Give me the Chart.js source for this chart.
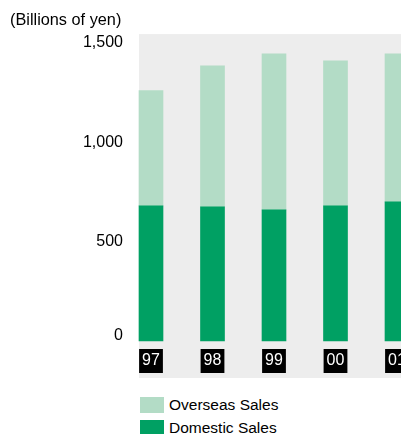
<!DOCTYPE html>
<html>
<head>
<meta charset="utf-8">
<script src="https://cdn.jsdelivr.net/npm/chart.js@4"></script>
<style>
  body { margin: 0; background: #fff; font-family: "Liberation Sans", Arial, sans-serif; }
  #wrap { position: relative; width: 401px; height: 434px; overflow: hidden; }
  #salesChart { position: absolute; left: 0; top: 0; }
  .legend { position: absolute; left: 140px; top: 393px; font-size: 15.5px; color: #000; }
  .legend div { display: flex; align-items: center; height: 23px; white-space: nowrap; }
  .legend .sw { display: inline-block; width: 24px; height: 16px; margin-right: 5px; }
</style>
</head>
<body>
<div id="wrap">
  <canvas id="salesChart" width="401" height="380"></canvas>
  <div class="legend">
    <div><span class="sw" style="background:#b3dcc6"></span>Overseas Sales</div>
    <div><span class="sw" style="background:#00a063"></span>Domestic Sales</div>
  </div>
</div>
<script>
const years = ['97', '98', '99', '00', '01'];
const domesticSales = [680, 675, 660, 680, 700];
const overseasSales = [580, 710, 785, 730, 745];
const yTicks = [0, 500, 1000, 1500];

const darkGreen = '#00a063';
const lightGreen = '#b3dcc6';
const fontFamily = '"Liberation Sans", Arial, sans-serif';

// grey panel behind the bars, running under the year labels
const panelBg = {
  id: 'panelBg',
  beforeDraw(chart) {
    const ctx = chart.ctx;
    const a = chart.chartArea;
    ctx.save();
    ctx.fillStyle = '#ededed';
    ctx.fillRect(a.left - 12, a.top, chart.width - a.left + 12, a.bottom - a.top + 37);
    ctx.restore();
  }
};

new Chart(document.getElementById('salesChart'), {
  type: 'bar',
  data: {
    labels: years,
    datasets: [{
      label: 'Domestic Sales',
      data: domesticSales,
      backgroundColor: darkGreen,
      clip: false
    }, {
      label: 'Overseas Sales',
      data: overseasSales,
      backgroundColor: lightGreen,
      clip: false
    }]
  },
  options: {
    responsive: false,
    animation: false,
    barThickness: 24,
    layout: {
      padding: { left: 10, right: 4, top: 0, bottom: 0 }
    },
    plugins: {
      legend: { display: false },
      tooltip: { enabled: false },
      title: {
        display: true,
        text: '(Billions of yen)',
        align: 'start',
        color: '#000',
        font: { family: fontFamily, size: 16.3, weight: 'normal', lineHeight: 1.2 },
        padding: { top: 11, bottom: 3.5 }
      }
    },
    scales: {
      x: {
        stacked: true,
        offset: false,
        grid: { display: false, drawTicks: false },
        border: { display: false },
        ticks: {
          autoSkip: false,
          maxRotation: 0,
          padding: 11,
          color: '#ffffff',
          font: { family: fontFamily, size: 16, lineHeight: '18px' },
          showLabelBackdrop: true,
          backdropColor: '#000000',
          backdropPadding: { top: 3, bottom: 3, left: 3, right: 3 }
        },
        afterFit(axis) {
          axis.height = 39;
          axis.paddingLeft = 0;
          axis.paddingRight = 0;
        }
      },
      y: {
        stacked: true,
        min: 0,
        max: 1545,
        grid: { display: false, drawTicks: false },
        border: { display: false },
        afterBuildTicks(axis) {
          axis.ticks = yTicks.map(v => ({ value: v }));
        },
        ticks: {
          padding: 28,
          color: '#000',
          font: { family: fontFamily, size: 16, lineHeight: '10px' },
          callback(value) {
            // lift the zero label clear of the year boxes
            if (value === 0) return ['0', ''];
            return value.toLocaleString('en-US');
          }
        },
        afterFit(axis) {
          axis.width = 141;
          axis.paddingTop = 0;
          axis.paddingBottom = 0;
        }
      }
    }
  },
  plugins: [panelBg]
});
</script>
</body>
</html>
